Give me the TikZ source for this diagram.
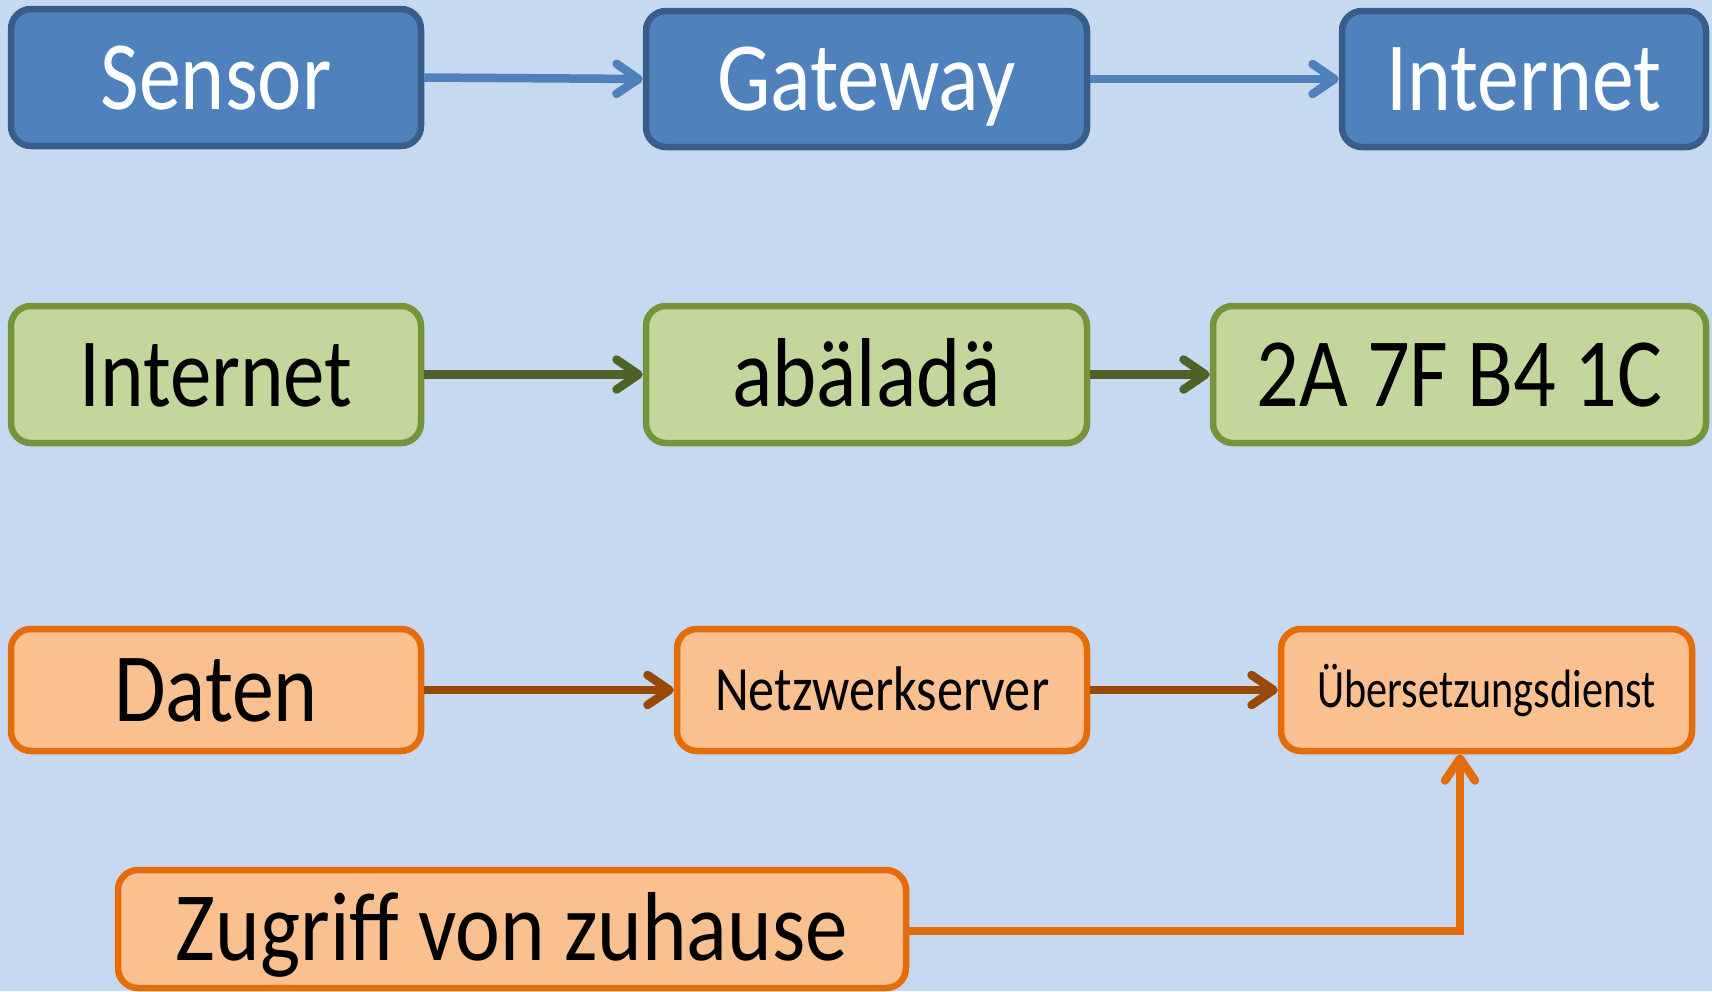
\documentclass[tikz,border=0pt]{standalone}
\usepackage{fontspec}
\setmainfont{Carlito}
\usepackage{graphicx}
\usetikzlibrary{arrows.meta}

\definecolor{bgblue}{HTML}{C6D9F1}
\definecolor{blfill}{HTML}{4F81BD}
\definecolor{bldraw}{HTML}{385D8A}
\definecolor{grfill}{HTML}{C3D69B}
\definecolor{grdraw}{HTML}{77933C}
\definecolor{grline}{HTML}{4F6228}
\definecolor{orfill}{HTML}{FAC090}
\definecolor{ordraw}{HTML}{E46C0A}
\definecolor{orline}{HTML}{984807}

% stretch a label horizontally to a set width, keeping its height
\newcommand{\fitw}[2]{\resizebox{#1}{\height}{#2}}

\tikzset{
  box/.style={rounded corners=20pt, line width=6.5pt, inner sep=0pt, align=center, text depth=0pt},
  bluebox/.style={box, fill=blfill, draw=bldraw, text=white},
  greenbox/.style={box, fill=grfill, draw=grdraw, text=black},
  orangebox/.style={box, fill=orfill, draw=ordraw, text=black},
  big/.style={font=\fontsize{98}{98}\selectfont, text height=63pt},
  mid/.style={font=\fontsize{63}{63}\selectfont, text height=40.6pt},
  small/.style={font=\fontsize{54}{54}\selectfont, text height=34.8pt},
  conn/.style={line width=8.5pt, -{Straight Barb[length=22pt, width=30pt, round]}},
}

\begin{document}
\begin{tikzpicture}[x=1pt, y=-1pt]
  \fill[bgblue] (0,0) rectangle (1712,991);
  \useasboundingbox (0,0) rectangle (1712,991);

  % first row
  \node[bluebox, big, minimum width=410pt, minimum height=137pt] (sensor) at (216,77.5) {\fitw{231pt}{Sensor}};
  \node[bluebox, big, minimum width=441pt, minimum height=136pt] (gateway) at (866.5,79) {\fitw{299pt}{Gateway}};
  \node[bluebox, big, minimum width=364pt, minimum height=136pt] (inet) at (1524,79) {\fitw{275pt}{Internet}};

  % second row
  \node[greenbox, big, minimum width=410pt, minimum height=137pt] (inet2) at (216,374.5) {\fitw{273pt}{Internet}};
  \node[greenbox, big, minimum width=441pt, minimum height=137pt] (abal) at (866.5,374.5) {\fitw{269pt}{abäladä}};
  \node[greenbox, big, minimum width=493pt, minimum height=137pt] (hex) at (1459.5,374.5) {\fitw{406pt}{2A 7F B4 1C}};

  % third row
  \node[orangebox, big, minimum width=410pt, minimum height=122pt] (daten) at (216,690) {\fitw{204pt}{Daten}};
  \node[orangebox, mid, minimum width=410pt, minimum height=122pt] (netz) at (882,690) {\fitw{334pt}{Netzwerkserver}};
  \node[orangebox, small, minimum width=411pt, minimum height=122pt] (ueber) at (1486.5,690) {\fitw{338pt}{Übersetzungsdienst}};

  % access from home
  \node[orangebox, big, minimum width=788pt, minimum height=118pt] (zug) at (512,929) {\fitw{672pt}{Zugriff von zuhause}};

  % connectors
  \draw[conn, blfill] (sensor.east) -- (gateway.west);
  \draw[conn, blfill] (gateway.east) -- (inet.west);
  \draw[conn, grline] (inet2.east) -- (abal.west);
  \draw[conn, grline] (abal.east) -- (hex.west);
  \draw[conn, orline] (daten.east) -- (netz.west);
  \draw[conn, orline] (netz.east) -- (ueber.west);
  \draw[conn, ordraw] ([yshift=-2pt]zug.east) -| ([xshift=-26.5pt]ueber.south);
\end{tikzpicture}
\end{document}
